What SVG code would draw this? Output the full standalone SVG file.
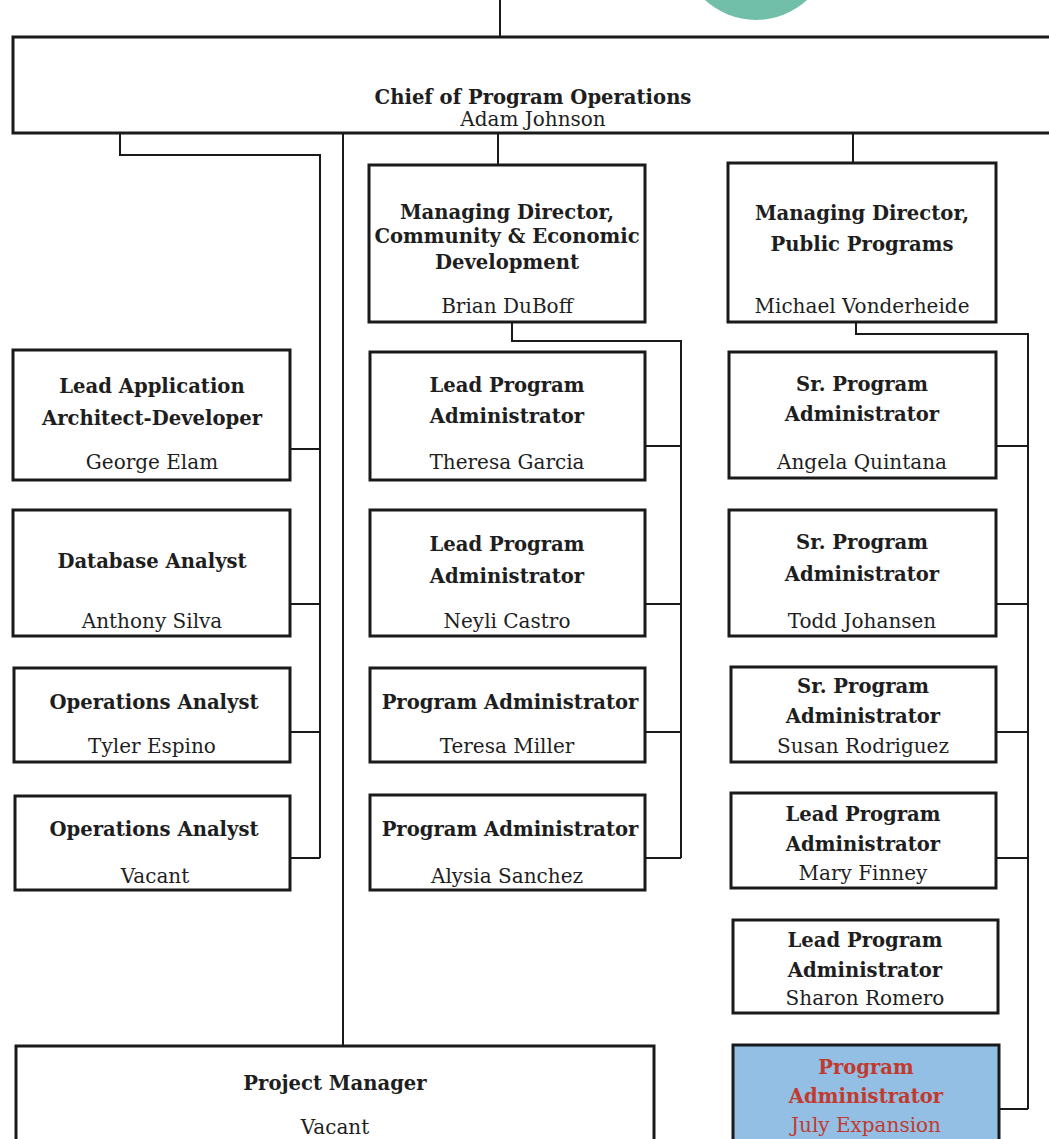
<svg xmlns="http://www.w3.org/2000/svg" width="1049" height="1139" viewBox="0 0 1049 1139">
  <style>
    .box { fill: #ffffff; stroke: #1a1a1a; stroke-width: 3; }
    .hl { fill: #93bfe4; stroke: #1a1a1a; stroke-width: 3; }
    .wire { fill: none; stroke: #1a1a1a; stroke-width: 2; }
    text { font-family: "DejaVu Serif", "Liberation Serif", serif; text-anchor: middle; fill: #1e1e1e; }
    .t { font-size: 19.6px; font-weight: bold; }
    .n { font-size: 20px; }
    .red { fill: #c23a2e; }
  </style>
  <rect x="0" y="0" width="1049" height="1139" fill="#ffffff"/>
  <circle cx="756" cy="-55" r="75" fill="#72bfa9"/>

  <g id="connectors">
    <path class="wire" d="M500 0 V37"/>
    <path class="wire" d="M120 133 V155 H320 V858"/>
    <path class="wire" d="M290 449 H320 M290 604 H320 M290 732 H320 M290 858 H320"/>
    <path class="wire" d="M343 133 V1046"/>
    <path class="wire" d="M498 133 V165"/>
    <path class="wire" d="M853 133 V163"/>
    <path class="wire" d="M512 322 V341 H681 V858"/>
    <path class="wire" d="M645 446 H681 M645 604 H681 M645 732 H681 M645 858 H681"/>
    <path class="wire" d="M856 322 V334 H1028 V1109"/>
    <path class="wire" d="M996 446 H1028 M996 604 H1028 M996 732 H1028 M996 858 H1028 M998 1109 H1028"/>
  </g>

  <g id="chief">
    <rect class="box" x="13" y="37" width="1040" height="96"/>
    <text class="t" x="533" y="104">Chief of Program Operations</text>
    <text class="n" x="533" y="126">Adam Johnson</text>
  </g>

  <g id="md-ced">
    <rect class="box" x="369" y="165" width="276" height="157"/>
    <text class="t" x="507" y="219">Managing Director,</text>
    <text class="t" x="507" y="243">Community &amp; Economic</text>
    <text class="t" x="507" y="269">Development</text>
    <text class="n" x="507" y="313">Brian DuBoff</text>
  </g>

  <g id="md-pp">
    <rect class="box" x="728" y="163" width="268" height="159"/>
    <text class="t" x="862" y="220">Managing Director,</text>
    <text class="t" x="862" y="251">Public Programs</text>
    <text class="n" x="862" y="313">Michael Vonderheide</text>
  </g>

  <g id="lead-app-architect">
    <rect class="box" x="13" y="350" width="277" height="130"/>
    <text class="t" x="152" y="393">Lead Application</text>
    <text class="t" x="152" y="425">Architect-Developer</text>
    <text class="n" x="152" y="469">George Elam</text>
  </g>
  <g id="database-analyst">
    <rect class="box" x="13" y="510" width="277" height="126"/>
    <text class="t" x="152" y="568">Database Analyst</text>
    <text class="n" x="152" y="628">Anthony Silva</text>
  </g>
  <g id="ops-analyst-1">
    <rect class="box" x="14" y="668" width="276" height="94"/>
    <text class="t" x="154" y="709">Operations Analyst</text>
    <text class="n" x="152" y="753">Tyler Espino</text>
  </g>
  <g id="ops-analyst-2">
    <rect class="box" x="15" y="796" width="275" height="94"/>
    <text class="t" x="154" y="836">Operations Analyst</text>
    <text class="n" x="155" y="883">Vacant</text>
  </g>

  <g id="lpa-garcia">
    <rect class="box" x="370" y="352" width="275" height="128"/>
    <text class="t" x="507" y="392">Lead Program</text>
    <text class="t" x="507" y="423">Administrator</text>
    <text class="n" x="507" y="469">Theresa Garcia</text>
  </g>
  <g id="lpa-castro">
    <rect class="box" x="370" y="510" width="275" height="126"/>
    <text class="t" x="507" y="551">Lead Program</text>
    <text class="t" x="507" y="583">Administrator</text>
    <text class="n" x="507" y="628">Neyli Castro</text>
  </g>
  <g id="pa-miller">
    <rect class="box" x="370" y="668" width="275" height="94"/>
    <text class="t" x="510" y="709">Program Administrator</text>
    <text class="n" x="507" y="753">Teresa Miller</text>
  </g>
  <g id="pa-sanchez">
    <rect class="box" x="370" y="795" width="275" height="95"/>
    <text class="t" x="510" y="836">Program Administrator</text>
    <text class="n" x="507" y="883">Alysia Sanchez</text>
  </g>

  <g id="spa-quintana">
    <rect class="box" x="729" y="352" width="267" height="126"/>
    <text class="t" x="862" y="391">Sr. Program</text>
    <text class="t" x="862" y="421">Administrator</text>
    <text class="n" x="862" y="469">Angela Quintana</text>
  </g>
  <g id="spa-johansen">
    <rect class="box" x="729" y="510" width="267" height="126"/>
    <text class="t" x="862" y="549">Sr. Program</text>
    <text class="t" x="862" y="581">Administrator</text>
    <text class="n" x="862" y="628">Todd Johansen</text>
  </g>
  <g id="spa-rodriguez">
    <rect class="box" x="731" y="667" width="265" height="95"/>
    <text class="t" x="863" y="693">Sr. Program</text>
    <text class="t" x="863" y="723">Administrator</text>
    <text class="n" x="863" y="753">Susan Rodriguez</text>
  </g>
  <g id="lpa-finney">
    <rect class="box" x="731" y="793" width="265" height="95"/>
    <text class="t" x="863" y="821">Lead Program</text>
    <text class="t" x="863" y="851">Administrator</text>
    <text class="n" x="863" y="880">Mary Finney</text>
  </g>
  <g id="lpa-romero">
    <rect class="box" x="733" y="920" width="265" height="93"/>
    <text class="t" x="865" y="947">Lead Program</text>
    <text class="t" x="865" y="977">Administrator</text>
    <text class="n" x="865" y="1005">Sharon Romero</text>
  </g>
  <g id="pa-july-expansion">
    <rect class="hl" x="733" y="1045" width="266" height="100"/>
    <text class="t red" x="866" y="1074">Program</text>
    <text class="t red" x="866" y="1103">Administrator</text>
    <text class="n red" x="866" y="1132">July Expansion</text>
  </g>

  <g id="project-manager">
    <rect class="box" x="16" y="1046" width="638" height="100"/>
    <text class="t" x="335" y="1090">Project Manager</text>
    <text class="n" x="335" y="1134">Vacant</text>
  </g>
</svg>
